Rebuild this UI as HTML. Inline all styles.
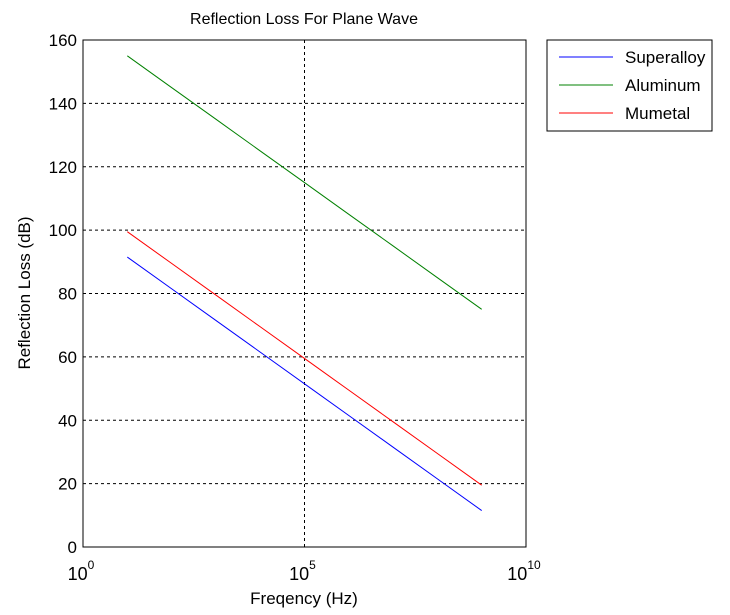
<!DOCTYPE html>
<html><head><meta charset="utf-8"><style>
body{margin:0;background:#fff;}
svg{display:block;font-family:"Liberation Sans",Arial,sans-serif;}
</style></head><body>
<svg id="chart" width="730" height="615">
<rect x="0" y="0" width="730" height="615" fill="#fff"/>
<text x="304" y="24" font-size="16" text-anchor="middle">Reflection Loss For Plane Wave</text>
<g id="grid"></g><g id="series"></g>
<rect x="83" y="40" width="443" height="507" fill="none" stroke="#000" stroke-width="1"/>
<g id="axes"></g>
<text x="304" y="604" font-size="17" text-anchor="middle">Freqency (Hz)</text>
<text transform="translate(30,293) rotate(-90)" font-size="17" text-anchor="middle">Reflection Loss (dB)</text>
<g>
<rect x="547" y="40" width="165" height="91" fill="#fff" stroke="#000"/>
<g id="legend"></g>
</g>
</svg>
<script>
const exps=[1,2,3,4,5,6,7,8,9];
const superalloy=[91.5,81.5,71.5,61.5,51.5,41.5,31.5,21.5,11.5];
const aluminum=[155,145,135,125,115,105,95,85,75];
const mumetal=[99.5,89.5,79.5,69.5,59.5,49.5,39.5,29.5,19.5];
const seriesNames=["Superalloy","Aluminum","Mumetal"];
const seriesColors=["#0000ff","#008000","#ff0000"];
const yTicks=[0,20,40,60,80,100,120,140,160];
const xTickExps=[0,5,10];
const NS="http://www.w3.org/2000/svg";
const X0=83,X1=526,Y0=547,Y1=40;
const xs=e=>X0+(e-0)/(10-0)*(X1-X0);
const ys=v=>Y0-(v-0)/(160-0)*(Y0-Y1);
function mk(t,a,p){const el=document.createElementNS(NS,t);for(const k in a)el.setAttribute(k,a[k]);p.appendChild(el);return el;}
const grid=document.getElementById('grid'),axes=document.getElementById('axes');
yTicks.forEach(v=>{
 const y=ys(v);
 if(v>0&&v<160){const g=mk('line',{x1:X0,x2:X1,y1:y,y2:y,stroke:'#000','stroke-dasharray':'3,3'},grid);
 
 }
 const t=mk('text',{x:X0-6,y:y+6,'font-size':17,'text-anchor':'end'},axes);t.textContent=v;
 
 
});
xTickExps.forEach(e=>{
 const x=xs(e);
 if(e>0&&e<10){const g=mk('line',{x1:x,x2:x,y1:Y1,y2:Y0,stroke:'#000','stroke-dasharray':'3,3'},grid);
 
 }
 const t=mk('text',{x:x-2,y:580,'font-size':18,'text-anchor':'middle'},axes);
 
 
 t.appendChild(document.createTextNode('10'));
 const s=mk('tspan',{'font-size':12,dy:-11},t);s.textContent=e;
});
const sg=document.getElementById('series');
[superalloy,aluminum,mumetal].forEach((d,i)=>{
 const pts=exps.map((e,j)=>xs(e)+','+ys(d[j])).join(' ');
 const p=mk('polyline',{points:pts,fill:'none',stroke:seriesColors[i],'stroke-width':1},sg);
 
 
});
const lg=document.getElementById('legend');
seriesNames.forEach((n,i)=>{
 const y=57+i*28;
 const l=mk('line',{x1:559,x2:613,y1:y,y2:y,stroke:seriesColors[i]},lg);
 
 
 const t=mk('text',{x:625,y:y+6,'font-size':17},lg);t.textContent=n;
 
 
});
</script>
</body></html>
